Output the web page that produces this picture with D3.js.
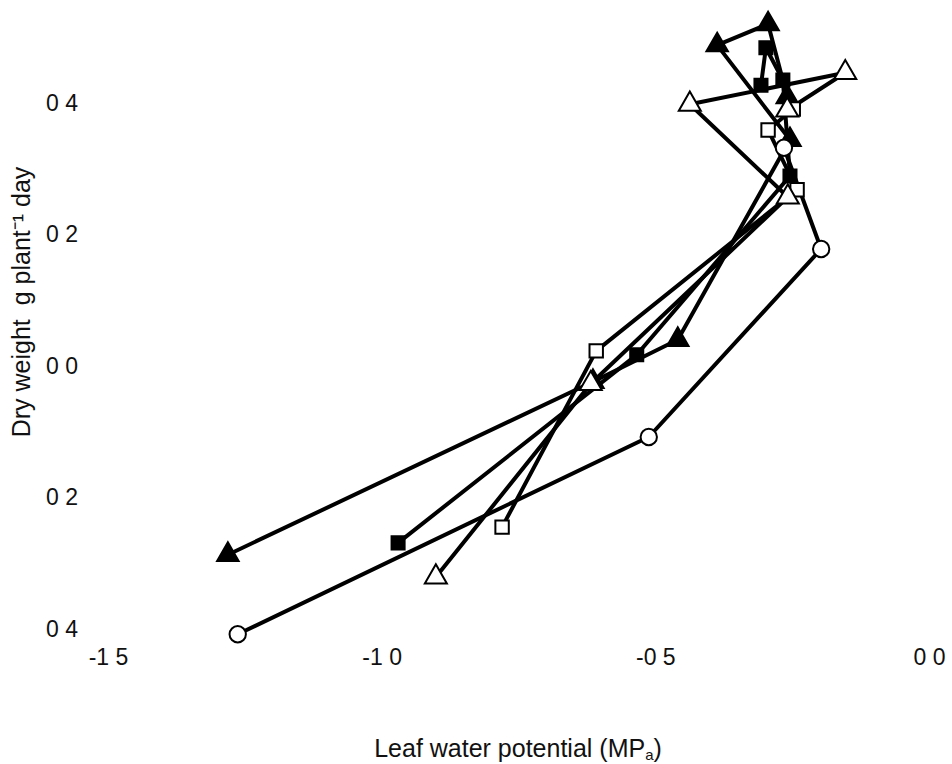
<!DOCTYPE html>
<html>
<head>
<meta charset="utf-8">
<script src="https://cdn.jsdelivr.net/npm/d3@7"></script>
<style>
  body { margin: 0; background: #fff; }
  text { font-family: "Liberation Sans", Arial, sans-serif; fill: #111; }
</style>
</head>
<body>
<div id="chart"></div>
<script>
var svgWidth = 952;
var svgHeight = 764;

// Leaf water potential (MPa) and dry weight, one array per treatment
var filledTriangle = [
  [-0.259, 0.409], [-0.294, 0.520], [-0.387, 0.488], [-0.254, 0.344],
  [-0.459, 0.040], [-0.614, -0.024], [-1.281, -0.287]
];
var filledSquare = [
  [-0.307, 0.427], [-0.298, 0.484], [-0.267, 0.435], [-0.254, 0.289],
  [-0.534, 0.017], [-0.970, -0.269]
];
var openSquare = [
  [-0.248, 0.391], [-0.294, 0.359], [-0.241, 0.268], [-0.608, 0.023],
  [-0.780, -0.245]
];
var openTriangle = [
  [-0.259, 0.389], [-0.153, 0.446], [-0.437, 0.398], [-0.258, 0.257],
  [-0.618, -0.027], [-0.901, -0.321]
];
var openCircle = [
  [-0.265, 0.332], [-0.197, 0.178], [-0.512, -0.108], [-1.263, -0.408]
];

var xTicks = [-1.5, -1.0, -0.5, 0.0];
var xTickLabels = ["-1 5", "-1 0", "-0 5", "0 0"];
var yTicks = [0.4, 0.2, 0.0, -0.2, -0.4];
var yTickLabels = ["0 4", "0 2", "0 0", "0 2", "0 4"];

var series = [
  { data: filledTriangle, shape: d3.symbolTriangle, size: 200, fill: "#000" },
  { data: filledSquare, shape: d3.symbolSquare, size: 170, fill: "#000" },
  { data: openCircle, shape: d3.symbolCircle, size: 210, fill: "#fff" },
  { data: openSquare, shape: d3.symbolSquare, size: 180, fill: "#fff" },
  { data: openTriangle, shape: d3.symbolTriangle, size: 210, fill: "#fff" }
];

var svg = d3.select("#chart")
  .append("svg")
  .attr("width", svgWidth)
  .attr("height", svgHeight);

var x = d3.scaleLinear().domain([-1.5, 0]).range([108, 929]);
var y = d3.scaleLinear().domain([-0.4, 0.4]).range([629, 103]);

// axes: labels only, no lines or ticks
var xAxis = d3.axisBottom(x)
  .tickValues(xTicks)
  .tickSize(0)
  .tickFormat((d, i) => xTickLabels[i]);

svg.append("g")
  .attr("transform", "translate(0,646)")
  .call(xAxis)
  .call(g => g.select(".domain").remove())
  .selectAll("text")
  .style("font-size", "23px")
  .style("font-family", "Liberation Sans, Arial, sans-serif");

var yAxis = d3.axisLeft(y)
  .tickValues(yTicks)
  .tickSize(0)
  .tickFormat((d, i) => yTickLabels[i]);

svg.append("g")
  .attr("transform", "translate(81,0)")
  .call(yAxis)
  .call(g => g.select(".domain").remove())
  .selectAll("text")
  .style("font-size", "23px")
  .style("font-family", "Liberation Sans, Arial, sans-serif");

var line = d3.line()
  .x(d => x(d[0]))
  .y(d => y(d[1]));

// lines first
svg.append("g")
  .selectAll("path")
  .data(series)
  .enter()
  .append("path")
  .attr("d", s => line(s.data))
  .attr("fill", "none")
  .attr("stroke", "#000")
  .attr("stroke-width", 4)
  .attr("stroke-linejoin", "round");

// markers on top
series.forEach(function(s) {
  svg.append("g")
    .selectAll("path")
    .data(s.data)
    .enter()
    .append("path")
    .attr("transform", d => `translate(${x(d[0])},${y(d[1])})`)
    .attr("d", d3.symbol().type(s.shape).size(s.size))
    .attr("fill", s.fill)
    .attr("stroke", "#000")
    .attr("stroke-width", 2);
});

// axis titles
var xTitle = svg.append("text")
  .attr("x", 518)
  .attr("y", 757)
  .attr("text-anchor", "middle")
  .attr("font-size", "25px");
xTitle.append("tspan").text("Leaf water potential (MP");
xTitle.append("tspan").attr("font-size", "15px").attr("dy", 3).text("a");
xTitle.append("tspan").attr("dy", -3).text(")");

svg.append("text")
  .attr("transform", "translate(30,302) rotate(-90)")
  .attr("text-anchor", "middle")
  .attr("font-size", "25px")
  .style("white-space", "pre")
  .text("Dry weight  g plant\u207B\u00B9 day");
</script>
</body>
</html>
